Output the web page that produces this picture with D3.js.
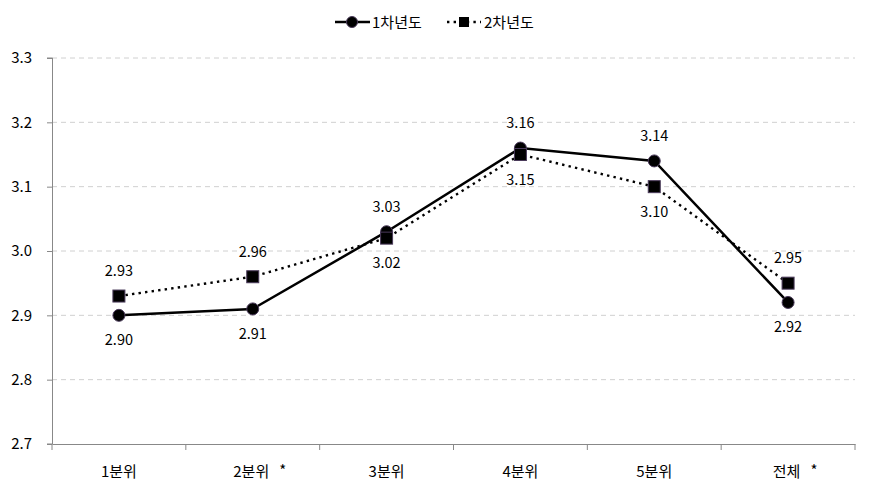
<!DOCTYPE html>
<html><head><meta charset="utf-8">
<script src="https://cdn.jsdelivr.net/npm/d3@7"></script>
<style>body{margin:0;background:#fff}svg{display:block}text{font-family:"Noto Sans CJK KR","Noto Sans",sans-serif}</style>
</head><body>
<svg id="c" width="871" height="493"></svg>
<script>
const categories = ["1분위","2분위 *","3분위","4분위","5분위","전체 *"];
const series1 = [2.90,2.91,3.03,3.16,3.14,2.92];
const series2 = [2.93,2.96,3.02,3.15,3.10,2.95];
const seriesNames = ["1차년도","2차년도"];
const labelPos1 = ["below","below","above","above","above","below"];
const labelPos2 = ["above","above","below","below","below","above"];
const yTicks = [2.7,2.8,2.9,3.0,3.1,3.2,3.3];

const svg = d3.select("#c");
const m = {l:52, r:16, t:58, b:49};
const W = 871, H = 493;
const x = d3.scaleBand().domain(categories).range([m.l, W-m.r]);
const y = d3.scaleLinear().domain([2.7,3.3]).range([H-m.b, m.t]);

// grid
svg.append("g").selectAll("line").data(yTicks.slice(1)).join("line")
  .attr("x1",m.l).attr("x2",W-m.r).attr("y1",d=>y(d)).attr("y2",d=>y(d))
  .attr("stroke","#d0d0d0").attr("stroke-dasharray","5,4").attr("stroke-width",1);

// y axis
const ya = svg.append("g").attr("transform",`translate(${m.l},0)`)
  .call(d3.axisLeft(y).tickValues(yTicks).tickFormat(d3.format(".1f")).tickSize(5).tickPadding(15));
ya.select(".domain").attr("stroke","#888").attr("d",`M-5,${y(3.3)}H0.5V${y(2.7)}H-5`);
ya.selectAll(".tick line").attr("stroke","#888");
ya.selectAll("text").attr("font-size",15).attr("fill","#000");

// x axis
const xa = svg.append("g").attr("transform",`translate(0,${y(2.7)})`)
  .call(d3.axisBottom(x).tickSize(0).tickPadding(20).tickFormat(""));
xa.select(".domain").attr("stroke","#888");
const bounds = x.domain().map(d=>x(d)).concat([W-m.r]);
svg.append("g").selectAll("line").data(bounds).join("line")
  .attr("x1",d=>d).attr("x2",d=>d).attr("y1",y(2.7)).attr("y2",y(2.7)+6)
  .attr("stroke","#888");

const cx = d=>x(d)+x.bandwidth()/2;
const xl = svg.append("g").selectAll("text").data(categories).join("text")
  .attr("x",d=>cx(d)).attr("y",y(2.7)+33).attr("text-anchor","middle")
  .attr("font-size",15).attr("fill","#000");
xl.each(function(d){
  const t = d3.select(this);
  const star = d.endsWith(" *");
  const base = star ? d.slice(0,-2) : d;
  if(star){
    t.attr("x",cx(d)+7);
    t.append("tspan").text(base).attr("dx",0);
    t.append("tspan").text("*").attr("dx",10).attr("dy",-1).attr("font-size",15);
  } else t.text(base);
});

const line = d3.line().x((d,i)=>cx(categories[i])).y(d=>y(d));

svg.append("path").datum(series1).attr("d",line).attr("fill","none")
  .attr("stroke","#000").attr("stroke-width",2.5);
svg.append("path").datum(series2).attr("d",line).attr("fill","none")
  .attr("stroke","#000").attr("stroke-width",2.4).attr("stroke-dasharray","2.4,4.2");

svg.append("g").selectAll("circle").data(series1).join("circle")
  .attr("cx",(d,i)=>cx(categories[i])).attr("cy",d=>y(d)).attr("r",6)
  .attr("fill","#000").attr("stroke","#4a3a5a").attr("stroke-width",1);
svg.append("g").selectAll("rect").data(series2).join("rect")
  .attr("x",(d,i)=>cx(categories[i])-6).attr("y",d=>y(d)-6).attr("width",12).attr("height",12)
  .attr("fill","#000").attr("stroke","#4a3a5a").attr("stroke-width",1);

function labels(data,pos){
  svg.append("g").selectAll("text").data(data).join("text")
    .attr("x",(d,i)=>cx(categories[i])).attr("y",(d,i)=>y(d)+(pos[i]==="above"?-20:30))
    .attr("text-anchor","middle").attr("font-size",14.5).attr("fill","#000")
    .text(d=>d.toFixed(2));
}
labels(series1,labelPos1);
labels(series2,labelPos2);

// legend
const lg = svg.append("g");
lg.append("line").attr("x1",335).attr("x2",370).attr("y1",22).attr("y2",22).attr("stroke","#000").attr("stroke-width",2.5);
lg.append("circle").attr("cx",352).attr("cy",22).attr("r",5.5).attr("fill","#000").attr("stroke","#4a3a5a");
lg.append("text").attr("x",372).attr("y",28).attr("font-size",15).text(seriesNames[0]);
lg.append("line").attr("x1",447).attr("x2",481).attr("y1",22).attr("y2",22).attr("stroke","#000").attr("stroke-width",2.4).attr("stroke-dasharray","2.4,4.2");
lg.append("rect").attr("x",459).attr("y",17).attr("width",10).attr("height",10).attr("fill","#000");
lg.append("text").attr("x",484).attr("y",28).attr("font-size",15).text(seriesNames[1]);
</script>
</body></html>
